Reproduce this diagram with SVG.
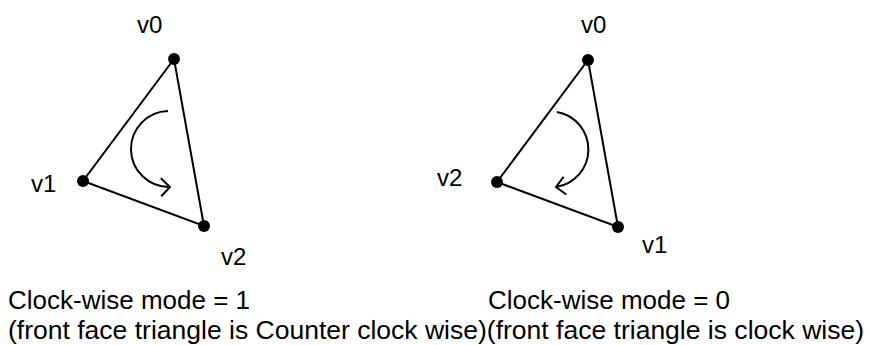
<svg xmlns="http://www.w3.org/2000/svg" width="870" height="345" viewBox="0 0 870 345">
<style>
.edge{fill:none;stroke:#000;stroke-width:2;stroke-linecap:round}
.arc{fill:none;stroke:#000;stroke-width:2}
.dot{fill:#000}
.lbl{font-family:"Liberation Sans",Arial,sans-serif;font-size:24px;fill:#000}
.cap{font-family:"Liberation Sans",Arial,sans-serif;font-size:26px;fill:#000}
</style>
<defs>
<marker id="chev" markerUnits="userSpaceOnUse" orient="auto" refX="0" refY="0" markerWidth="30" markerHeight="30" viewBox="-15 -15 30 30" overflow="visible">
<path d="M-9,-9 L0,0 L-9,9" fill="none" stroke="#000" stroke-width="2"/>
</marker>
</defs>
<rect width="870" height="345" fill="#fff"/>
<g id="connectors">
<path class="edge" d="M174,59 L83,181 L204,226 Z"/>
<path class="edge" d="M588,60 L497,182 L618,227 Z"/>
<path class="arc" d="M168,111 A38,38 0 0,0 170,187" marker-end="url(#chev)"/>
<path class="arc" d="M557,112 A38,38 0 0,1 556,187" marker-end="url(#chev)"/>
</g>
<g id="left-v0"><circle class="dot" cx="174" cy="59" r="6"/><text class="lbl" x="137" y="33">v0</text></g>
<g id="left-v1"><circle class="dot" cx="83" cy="181" r="6"/><text class="lbl" x="31" y="192">v1</text></g>
<g id="left-v2"><circle class="dot" cx="204" cy="226" r="6"/><text class="lbl" x="221" y="265">v2</text></g>
<g id="right-v0"><circle class="dot" cx="588" cy="60" r="6"/><text class="lbl" x="581" y="33">v0</text></g>
<g id="right-v2"><circle class="dot" cx="497" cy="182" r="6"/><text class="lbl" x="437" y="186">v2</text></g>
<g id="right-v1"><circle class="dot" cx="618" cy="227" r="6"/><text class="lbl" x="642" y="253">v1</text></g>
<g id="captions">
<text class="cap" x="8" y="309">Clock-wise mode = 1</text>
<text class="cap" x="488" y="309">Clock-wise mode = 0</text>
<text class="cap" x="8" y="339" textLength="856" lengthAdjust="spacingAndGlyphs">(front face triangle is Counter clock wise)(front face triangle is clock wise)</text>
</g>
</svg>
